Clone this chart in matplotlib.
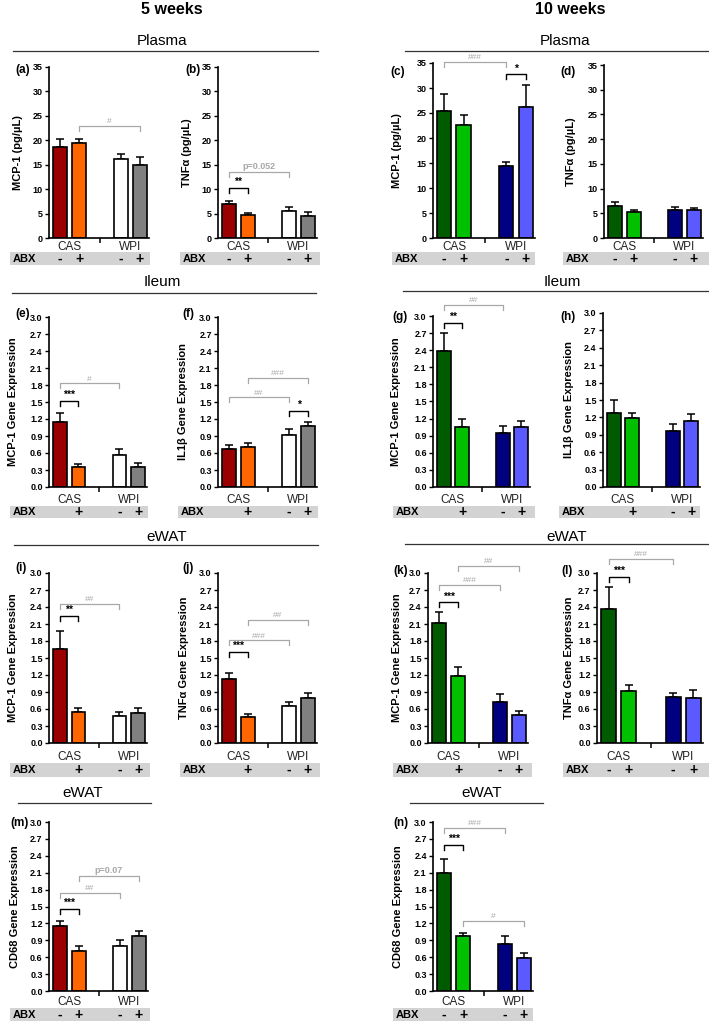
import numpy as np
import matplotlib
matplotlib.use('Agg')
import matplotlib.pyplot as plt
import matplotlib.transforms as mtransforms
from matplotlib.patches import Rectangle
from matplotlib.lines import Line2D

plt.rcParams['font.family'] = ['Liberation Sans', 'DejaVu Sans']

W, H = 709, 1022

groups = ['CAS', 'WPI']
abx_full = ['-', '+', '-', '+']
abx_short = ['', '+', '-', '+']

col_5wk = ['#9b0000', '#ff6600', '#ffffff', '#808080']
col_10wk = ['#005a00', '#00c000', '#000080', '#5a5aff']

# means and upper error (SEM)
a_mean = [18.6, 19.5, 16.2, 15.0]
a_err = [1.7, 0.8, 1.0, 1.6]
b_mean = [7.0, 4.8, 5.6, 4.6]
b_err = [0.6, 0.4, 0.7, 0.7]
c_mean = [25.4, 22.5, 14.3, 26.1]
c_err = [3.4, 2.0, 0.8, 4.4]
d_mean = [6.5, 5.3, 5.6, 5.6]
d_err = [0.7, 0.3, 0.7, 0.5]
e_mean = [1.15, 0.36, 0.57, 0.35]
e_err = [0.16, 0.05, 0.10, 0.08]
f_mean = [0.67, 0.70, 0.91, 1.08]
f_err = [0.07, 0.08, 0.11, 0.06]
g_mean = [2.38, 1.06, 0.94, 1.06]
g_err = [0.32, 0.13, 0.13, 0.09]
h_mean = [1.27, 1.19, 0.97, 1.13]
h_err = [0.23, 0.09, 0.12, 0.12]
i_mean = [1.66, 0.55, 0.48, 0.53]
i_err = [0.31, 0.07, 0.06, 0.09]
j_mean = [1.13, 0.46, 0.65, 0.80]
j_err = [0.11, 0.05, 0.08, 0.08]
k_mean = [2.11, 1.19, 0.72, 0.50]
k_err = [0.21, 0.15, 0.14, 0.07]
l_mean = [2.37, 0.92, 0.81, 0.79]
l_err = [0.38, 0.11, 0.08, 0.14]
m_mean = [1.16, 0.71, 0.80, 0.97]
m_err = [0.09, 0.08, 0.11, 0.10]
n_mean = [2.09, 0.97, 0.84, 0.59]
n_err = [0.25, 0.06, 0.14, 0.08]

# significance brackets: (bar from, bar to, level, label, kind)
a_sig = [(1, 3, 22.9, '#', 'g')]
b_sig = [(0, 1, 10.3, '**', 'k'), (0, 2, 13.6, 'p=0.052', 'p')]
c_sig = [(0, 2, 35.2, '###', 'g'), (2, 3, 32.7, '*', 'k')]
d_sig = []
e_sig = [(0, 1, 1.52, '***', 'k'), (0, 2, 1.83, '#', 'g')]
f_sig = [(2, 3, 1.34, '*', 'k'), (0, 2, 1.58, '##', 'g'), (1, 3, 1.93, '###', 'g')]
g_sig = [(0, 1, 2.88, '**', 'k'), (0, 2, 3.19, '##', 'g')]
h_sig = []
i_sig = [(0, 1, 2.25, '**', 'k'), (0, 2, 2.46, '##', 'g')]
j_sig = [(0, 1, 1.61, '***', 'k'), (0, 2, 1.81, '###', 'g'), (1, 3, 2.17, '##', 'g')]
k_sig = [(0, 1, 2.48, '***', 'k'), (0, 2, 2.79, '###', 'g'), (1, 3, 3.13, '##', 'g')]
l_sig = [(0, 1, 2.93, '***', 'k'), (0, 2, 3.25, '###', 'g')]
m_sig = [(0, 1, 1.46, '***', 'k'), (0, 2, 1.74, '##', 'g'), (1, 3, 2.04, 'p=0.07', 'p')]
n_sig = [(0, 1, 2.60, '***', 'k'), (0, 2, 2.90, '###', 'g'), (1, 3, 1.24, '#', 'g')]

ylab_plasma_mcp = 'MCP-1 (pg/\u00b5L)'
ylab_plasma_tnf = 'TNF\u03b1 (pg/\u00b5L)'

# panel: data, colours, ylabel, abx signs, row, axes box px, ylabel x, letter pos, band x
panels = [
    ('a', a_mean, a_err, a_sig, col_5wk, ylab_plasma_mcp, abx_full, 0, (49, 67, 149, 238), 18, (15, 70), (10, 150)),
    ('b', b_mean, b_err, b_sig, col_5wk, ylab_plasma_tnf, abx_full, 0, (218, 67, 317, 238), 187, (185, 70), (180, 320)),
    ('c', c_mean, c_err, c_sig, col_10wk, ylab_plasma_mcp, abx_full, 0, (433, 63, 535, 238), 397, (390, 72), (392, 535)),
    ('d', d_mean, d_err, d_sig, col_10wk, ylab_plasma_tnf, abx_full, 0, (604, 65, 703, 238), 571, (560, 72), (563, 709)),
    ('e', e_mean, e_err, e_sig, col_5wk, 'MCP-1 Gene Expression', abx_short, 1, (49, 317, 147, 487), 13, (15, 314), (10, 148)),
    ('f', f_mean, f_err, f_sig, col_5wk, 'IL1\u03b2 Gene Expression', abx_short, 1, (218, 317, 317, 487), 183, (182, 314), (178, 318)),
    ('g', g_mean, g_err, g_sig, col_10wk, 'MCP-1 Gene Expression', abx_short, 1, (433, 316, 530, 487), 396, (392, 317), (393, 535)),
    ('h', h_mean, h_err, h_sig, col_10wk, 'IL1\u03b2 Gene Expression', abx_short, 1, (603, 313, 700, 487), 569, (560, 317), (559, 700)),
    ('i', i_mean, i_err, i_sig, col_5wk, 'MCP-1 Gene Expression', abx_short, 2, (49, 573, 147, 743), 13, (15, 568), (10, 150)),
    ('j', j_mean, j_err, j_sig, col_5wk, 'TNF\u03b1 Gene Expression', abx_short, 2, (218, 573, 317, 743), 184, (182, 568), (180, 320)),
    ('k', k_mean, k_err, k_sig, col_10wk, 'MCP-1 Gene Expression', abx_short, 2, (428, 573, 528, 743), 397, (393, 571), (393, 532)),
    ('l', l_mean, l_err, l_sig, col_10wk, 'TNF\u03b1 Gene Expression', abx_full, 2, (597, 573, 703, 743), 569, (561, 571), (563, 709)),
    ('m', m_mean, m_err, m_sig, col_5wk, 'CD68 Gene Expression', abx_full, 3, (49, 822, 148, 991), 15, (10, 823), (10, 150)),
    ('n', n_mean, n_err, n_sig, col_10wk, 'CD68 Gene Expression', abx_full, 3, (433, 822, 533, 991), 398, (393, 823), (393, 533)),
]

# per row: ABX band top/bottom, group label y
rows = [((252, 265), 247), ((506, 518), 500), ((763, 777), 757), ((1008, 1021), 1002)]

headers = [('5 weeks', 172, 10), ('10 weeks', 570, 10)]
sections = [
    ('Plasma', 162, 41, 13, 318, 51), ('Plasma', 565, 41, 405, 709, 51),
    ('Ileum', 162, 282, 12, 316, 293), ('Ileum', 562, 282, 403, 709, 291),
    ('eWAT', 167, 537, 14, 318, 545), ('eWAT', 567, 537, 405, 709, 544),
    ('eWAT', 83, 793, 18, 151, 803), ('eWAT', 482, 793, 410, 543, 803),
]

xpos = np.array([0, 1, 3.2, 4.2])
grp_x = [0.5, 3.7]


def fx(x):
    return x / W


def fy(y):
    return 1 - y / H


fig = plt.figure(figsize=(W / 100, H / 100), dpi=100)

for txt, x, y in headers:
    fig.text(fx(x), fy(y), txt, ha='center', va='center', fontsize=11.5, fontweight='bold')

for txt, x, y, x0, x1, yl in sections:
    fig.text(fx(x), fy(y), txt, ha='center', va='center', fontsize=11)
    fig.add_artist(Line2D([fx(x0), fx(x1)], [fy(yl), fy(yl)], color='#333333', lw=0.9))

for (let, mean, err, sig, cols, ylab, abx, row, box, ylx, lpos, band) in panels:
    x0, y0, x1, y1 = box
    ax = fig.add_axes([fx(x0), fy(y1), (x1 - x0) / W, (y1 - y0) / H])
    plasma = row == 0
    top = 35 if plasma else 3.0
    ax.bar(xpos, mean, width=0.74, color=cols, edgecolor='black', linewidth=1.2, zorder=2)
    ax.errorbar(xpos, mean, yerr=[np.zeros(4), err], fmt='none', ecolor='black',
                elinewidth=1.1, capsize=2.6, capthick=1.1, zorder=1)
    ax.set_xlim(-0.58, 4.68)
    ax.set_ylim(0, top)
    if plasma:
        ax.set_yticks(np.arange(0, 36, 5))
        ax.set_yticklabels([str(v) for v in range(0, 36, 5)])
    else:
        yt = np.round(np.arange(0, 3.01, 0.3), 1)
        ax.set_yticks(yt)
        ax.set_yticklabels(['%.1f' % v for v in yt])
    for s in ['top', 'right']:
        ax.spines[s].set_visible(False)
    for s in ['left', 'bottom']:
        ax.spines[s].set_linewidth(1.2)
    ax.tick_params(axis='y', length=3, width=1, pad=1.5, labelsize=6.5)
    for t in ax.get_yticklabels():
        t.set_fontweight('bold')
    ax.set_xticks([2.1])
    ax.set_xticklabels([])
    ax.tick_params(axis='x', length=3.5, width=1.1)
    ax.patch.set_visible(False)

    # labels
    fig.text(fx(ylx), fy((y0 + y1) / 2), ylab, rotation=90, ha='center', va='center',
             fontsize=8, fontweight='bold')
    fig.text(fx(lpos[0]), fy(lpos[1]), '(%s)' % let, ha='left', va='center',
             fontsize=8.5, fontweight='bold')

    tr = mtransforms.blended_transform_factory(ax.transData, fig.transFigure)
    (by0, by1), gy = rows[row]
    for gx, g in zip(grp_x, groups):
        fig.text(gx, fy(gy), g, transform=tr, ha='center', va='center', fontsize=8.5, color='#222222')
    fig.add_artist(Rectangle((fx(band[0]), fy(by1)), (band[1] - band[0]) / W, (by1 - by0) / H,
                             transform=fig.transFigure, facecolor='#d3d3d3', edgecolor='none', zorder=0))
    bmid = fy((by0 + by1) / 2)
    fig.text(fx(band[0] + 3), bmid, 'ABX', ha='left', va='center', fontsize=8, fontweight='bold')
    for bx, sgn in zip(xpos, abx):
        if sgn:
            fig.text(bx, bmid, sgn, transform=tr, ha='center', va='center',
                     fontsize=10, fontweight='bold')

    # significance brackets
    drop = 5.0 / (y1 - y0) * top
    off = 0.8 / (y1 - y0) * top
    for (i1, i2, lev, lab, kind) in sig:
        lc = 'black' if kind == 'k' else '#a8a8a8'
        xa, xb = xpos[i1], xpos[i2]
        ax.plot([xa, xa, xb, xb], [lev - drop, lev, lev, lev - drop], color=lc,
                lw=1.0 if kind == 'k' else 0.9, clip_on=False, zorder=3)
        if kind == 'k':
            ax.text((xa + xb) / 2, lev + off, lab, ha='center', va='bottom', fontsize=7.5,
                    fontweight='bold', color='black', clip_on=False)
        elif kind == 'p':
            ax.text((xa + xb) / 2, lev + off, lab, ha='center', va='bottom', fontsize=6.5,
                    fontweight='bold', color='#a8a8a8', clip_on=False)
        else:
            ax.text((xa + xb) / 2, lev + off, lab, ha='center', va='bottom', fontsize=6,
                    color='#a8a8a8', clip_on=False)

fig.savefig('out.png', dpi=100)
